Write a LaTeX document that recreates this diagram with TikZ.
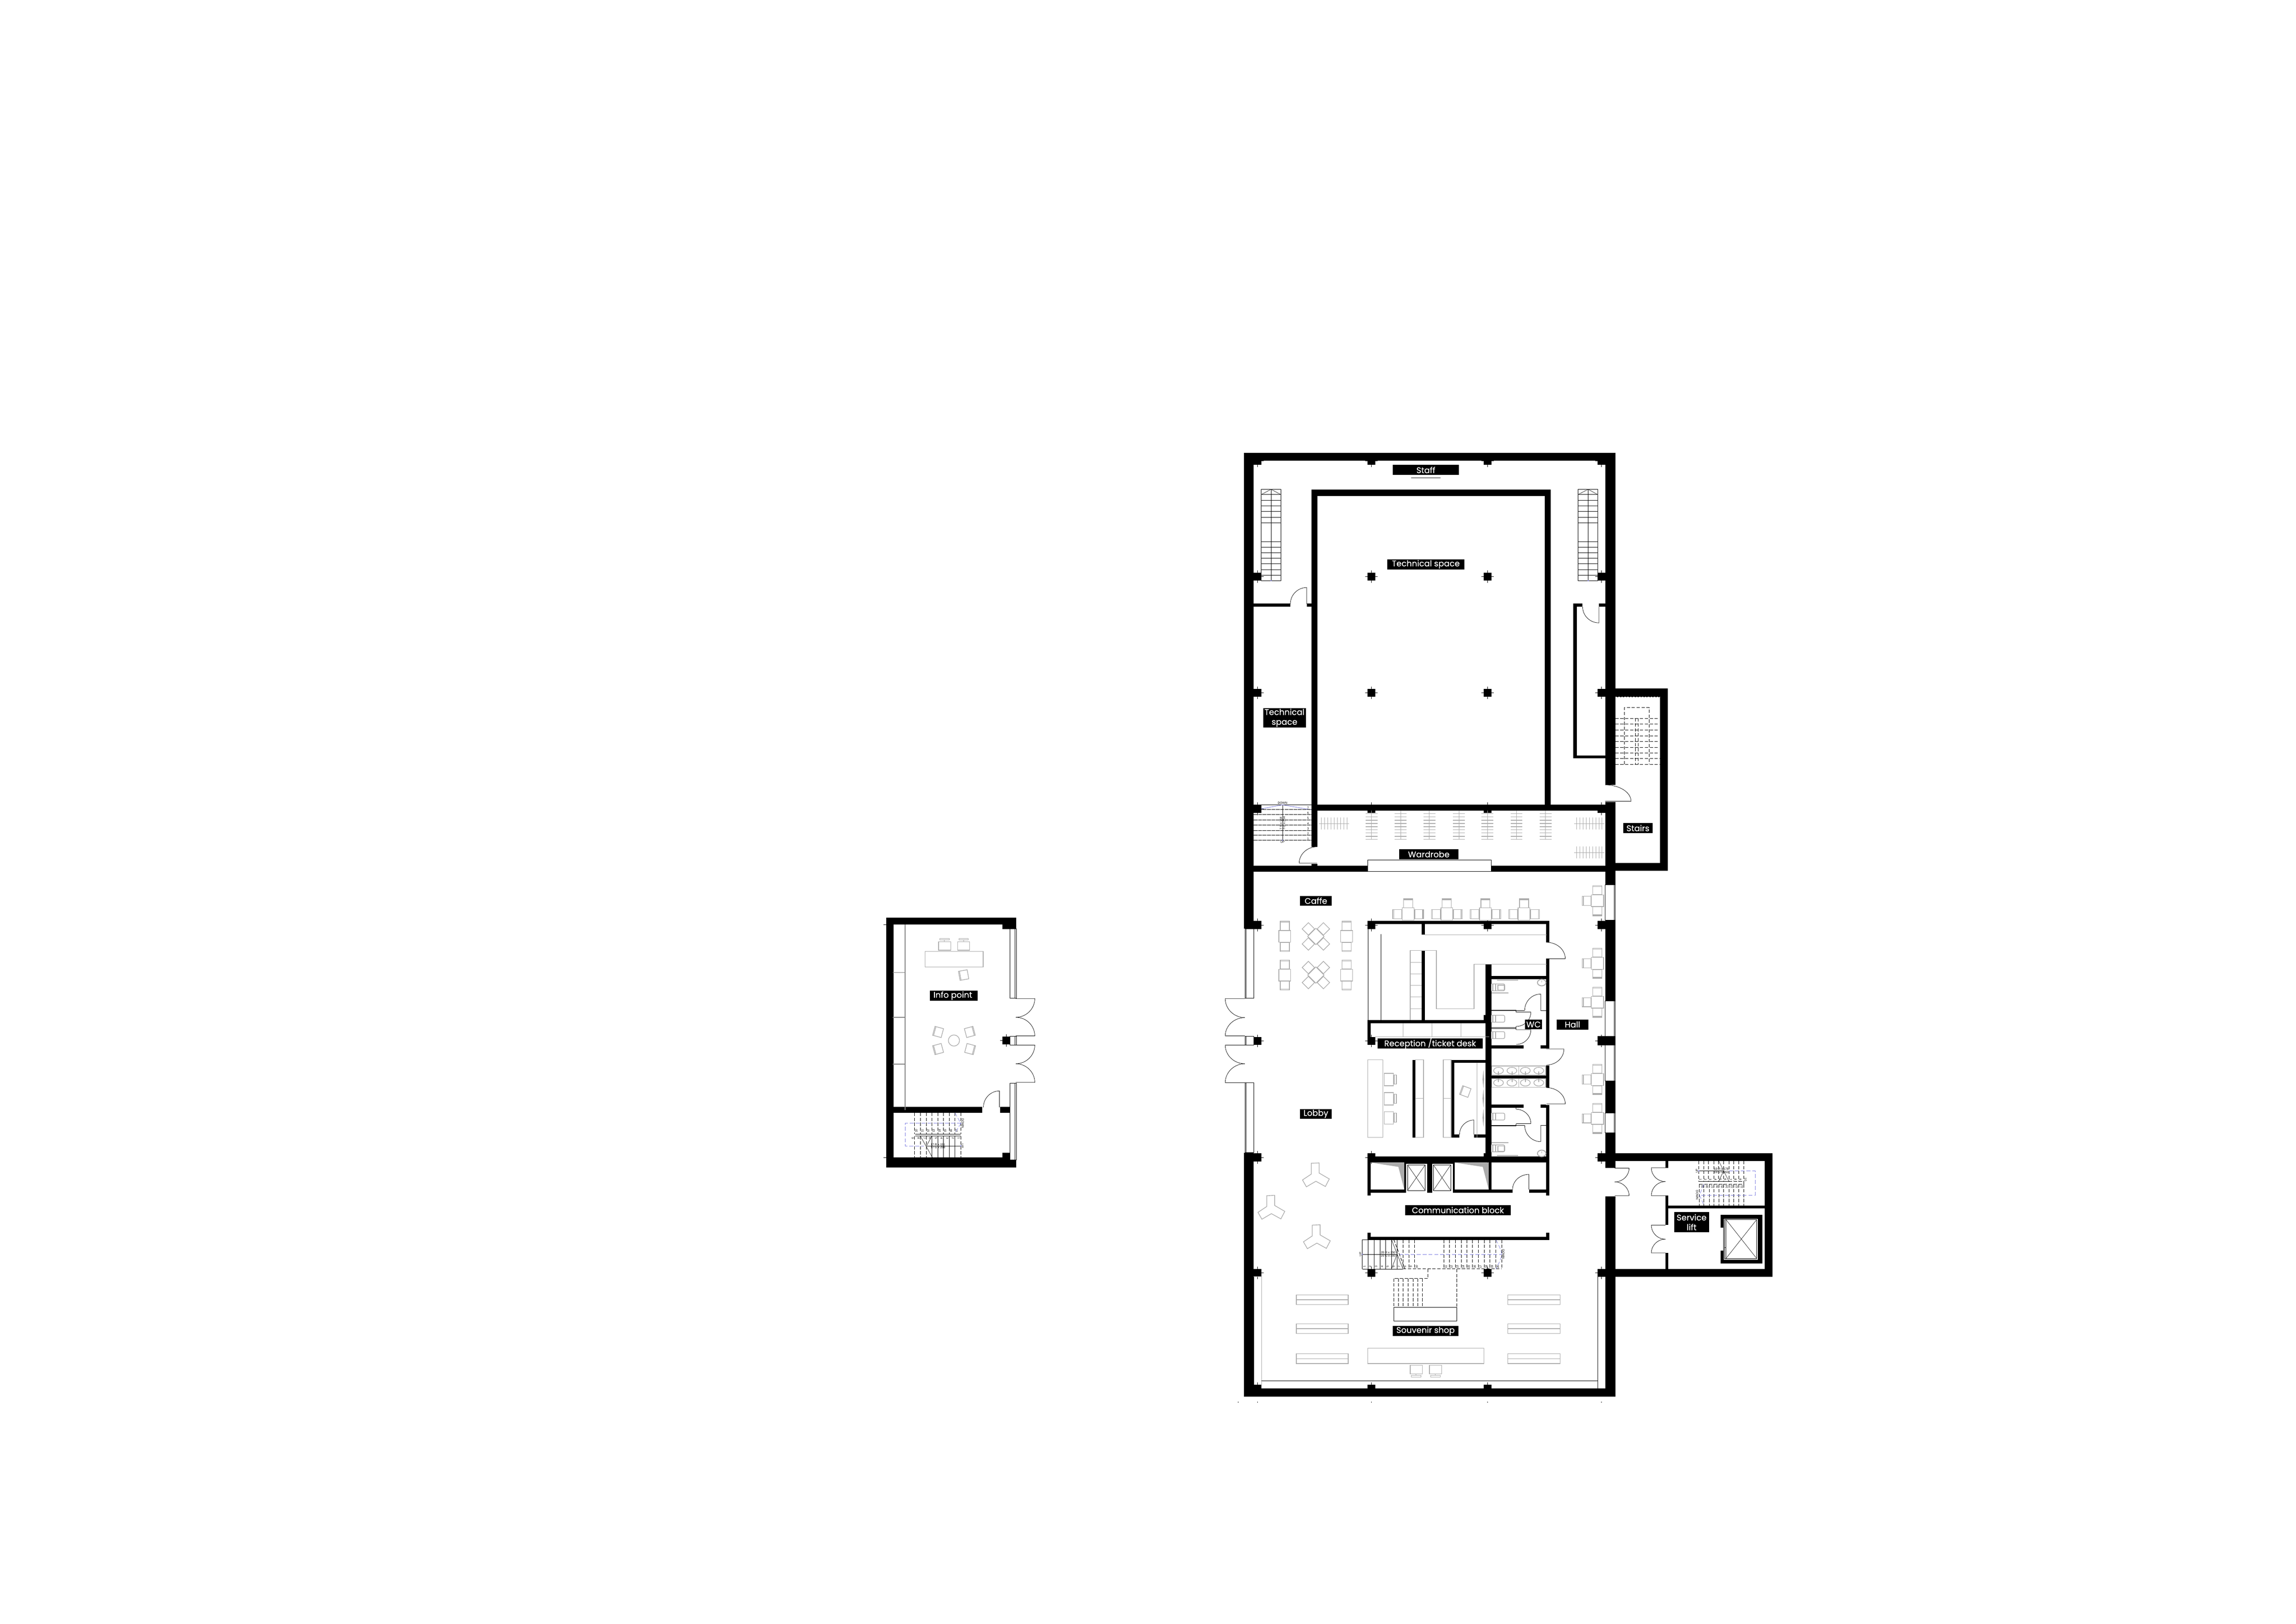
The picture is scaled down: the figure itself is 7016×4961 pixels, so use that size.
\documentclass[tikz,border=0pt]{standalone}
\usepackage{fontspec}
\setmainfont{Poppins}[FakeBold=0.25]
\newfontfamily\smallfont{Liberation Sans}
\usetikzlibrary{calc}

\definecolor{furngray}{HTML}{ABABAB}
\definecolor{stairblue}{HTML}{7B7BE0}

\newcommand{\swingh}[4]{\draw[doorline] (#1,#2) -- ++(#3,0) .. controls ($(#1,#2)+(#3,.55*#4)$) and ($(#1,#2)+(.55*#3,#4)$) .. ($(#1,#2)+(0,#4)$);}
\newcommand{\swingv}[4]{\draw[doorline] (#1,#2) -- ++(0,#4) .. controls ($(#1,#2)+(.55*#3,#4)$) and ($(#1,#2)+(#3,.55*#4)$) .. ($(#1,#2)+(#3,0)$);}
\newcommand{\pier}[2]{
	\fill[black] (#1-12,#2-12) rectangle (#1+12,#2+12);
	\draw[hair] (#1-19,#2) -- (#1+19,#2);
	\draw[hair] (#1,#2-19) -- (#1,#2+19);
}
\newcommand{\seat}[3]{
	\draw[furn,fill=white,shift={(#1,#2)},rotate=#3] (-14,-14) rectangle (14,13);
	\draw[furn,shift={(#1,#2)},rotate=#3] (-14,-11) -- (14,-11);
}
\newcommand{\toilet}[2]{
	\draw[furn,rounded corners=0.4mm] (#1,#2) -- (#1+41,#2) -- (#1+41,#2+21) -- (#1,#2+21);
	\draw[furn] (#1,#2-1) -- (#1,#2+22);
	\draw[furn] (#1+5,#2) -- (#1+5,#2+21);
	\draw[furn] (#1+13,#2) -- (#1+13,#2+21);
}
\newcommand{\glass}[4]{
	\draw[hair,fill=white] (#1,#2) rectangle (#3,#4);
	\draw[hair] (#3-3,#2) -- (#3-3,#4);
}

\begin{document}
\begin{tikzpicture}[x=0.1mm,y=-0.1mm]

	\tikzset{
		hair/.style={line width=0.25pt,black},
		doorline/.style={line width=0.3pt,black},
		furn/.style={line width=0.55pt,furngray},
		furnthin/.style={line width=0.4pt,furngray},
		tread/.style={line width=0.4pt,black,dash pattern=on 1mm off 0.5mm},
		bluedash/.style={line width=0.3pt,stairblue,dash pattern=on 1.2mm off 0.6mm},
		lab/.style 2 args={fill=black,text=white,inner sep=0pt,align=center,minimum width=#1*0.1mm,minimum height=#2*0.1mm,font=\fontsize{7.2}{8.5}\selectfont},
		smalltext/.style={inner sep=0pt,text=black,font=\smallfont\fontsize{2.6}{3}\selectfont},
	}

	\useasboundingbox (0,0) rectangle (7016,4961);
	\fill[white] (0,0) rectangle (7016,4961);

	% walls
	\foreach \xa/\ya/\xb/\yb in {
			3801/1384/4936/1408, 3801/1384/3831/2837, 3801/3522/3831/4267, 3801/4242/4936/4267,
			4905/1408/4936/2398, 4905/2450/4936/2703, 4905/2811/4936/3058, 4881/3166/4936/3193,
			4905/3302/4936/3401, 4905/3460/4936/3568, 4905/3656/4936/4267,
			3831/2645/4905/2663,
			4936/2104/5096/2130, 5072/2104/5096/2661, 4936/2637/5096/2661,
			4007/1496/4738/1515, 4007/1515/4026/2588, 4720/1515/4738/2459, 4007/2459/4905/2477,
			4007/2639/4026/2645,
			3831/1844/3943/1854, 3994/1844/4007/1854,
			4808/1844/4836/1854, 4886/1844/4905/1854, 4808/1844/4819/2317, 4808/2308/4905/2317,
			4179/2813/4734/2823, 4344/2823/4354/2856, 4724/2813/4734/2879, 4724/2929/4734/3204,
			4344/2904/4354/3117, 4179/3117/4539/3127, 4179/3117/4189/3168, 4539/2947/4558/3552,
			4533/3101/4539/3117, 4558/2982/4724/2991, 4558/3193/4656/3203, 4708/3193/4724/3203,
			4724/3255/4734/3323, 4558/3285/4724/3295, 4558/3375/4656/3385, 4708/3375/4724/3385,
			4724/3376/4734/3653,
			4434/3238/4539/3247, 4434/3238/4444/3475, 4434/3466/4459/3475, 4504/3466/4539/3475,
			4316/3238/4325/3475,
			4179/3533/4724/3552, 4179/3552/4189/3653, 4189/3634/4291/3644, 4291/3552/4445/3644,
			4445/3634/4622/3644, 4672/3634/4724/3644, 4549/3552/4558/3644,
			4179/3779/4734/3788, 4179/3766/4189/3779, 4724/3766/4734/3779,
			4936/3523/5416/3547, 5393/3547/5416/3877, 4881/3877/5416/3901,
			5089/3547/5098/3568, 5089/3653/5098/3743, 5089/3828/5098/3877, 5098/3683/5393/3692,
			5258/3712/5385/3723, 5258/3849/5385/3860, 5372/3712/5385/3860,
			5258/3712/5267/3751, 5258/3821/5267/3860,
			2708/2803/3105/2825, 2708/2825/2730/3567, 2708/3536/3105/3567, 3063/2825/3105/2838,
			3063/3522/3086/3536, 2730/3382/3002/3400, 3056/3382/3086/3400
		} {
			\fill[black] (\xa,\ya) rectangle (\xb,\yb);
		}

	% piers on the grid
	\foreach \x/\y in {
			3843/1408, 4191/1408, 4546/1408, 4893/1408,
			3843/1762, 4191/1762, 4546/1762, 4893/1762,
			3843/2117, 4191/2117, 4546/2117, 4893/2117,
			3843/2471, 4191/2471, 4546/2471, 4893/2471,
			3843/2826, 4191/2826, 4546/2826, 4893/2826,
			3843/3180, 4191/3180, 4893/3180,
			3843/3536, 4191/3536, 4546/3536, 4893/3536,
			3843/3889, 4191/3889, 4546/3889, 4893/3889,
			3843/4242, 4191/4242, 4546/4242,
			3075/3179
		} {
			\pier{\x}{\y}
		}
	\foreach \x in {3783,3842,4191,4545,4893} {
			\draw[hair] (\x,4283) -- (\x,4285);
		}
	\draw[hair] (2700,2825) -- (2708,2825);
	\draw[hair] (2700,3536) -- (2708,3536);

	% windows
	\foreach \ya/\yb in {2703/2811,3058/3166,3193/3302,3401/3460} {
			\glass{4905}{\ya}{4936}{\yb}
		}
	\foreach \ya/\yb in {2837/3050,3166/3192,3308/3521} {
			\draw[hair,fill=white] (3804,\ya) rectangle (3831,\yb);
			\draw[hair] (3807,\ya) -- (3807,\yb);
		}
	\foreach \ya/\yb in {2838/3050,3166/3192,3309/3544} {
			\glass{3086}{\ya}{3105}{\yb}
		}
	\draw[hair] (3831,3900) -- (3831,4231);
	\draw[furn] (3855,3900) -- (3855,4231);
	\draw[furnthin] (3831,3900) -- (3855,3900);
	\draw[hair] (3855,4219) -- (4882,4219);
	\draw[hair] (4882,3900) -- (4882,4242);
	\draw[hair,fill=white] (4179,2627) rectangle (4557,2662);

	% doors
	\swingv{3993}{1845}{-50}{-50}
	\swingv{4886}{1854}{-50}{49}
	\swingh{4905}{2448}{79}{-50}
	\swingh{4025}{2637}{-55}{-50}
	\swingh{3804}{3051}{-60}{58}
	\swingh{3804}{3165}{-60}{-56}
	\swingh{3804}{3193}{-60}{57}
	\swingh{3804}{3308}{-60}{-58}
	\swingh{4726}{2929}{57}{-50}
	\swingh{4725}{3205}{54}{49}
	\swingh{4726}{3373}{57}{-50}
	\swingv{4708}{3087}{-49}{-50}
	\swingh{4633}{3092}{45}{44}
	\swingh{4633}{3146}{45}{45}
	\swingh{4633}{3433}{45}{-44}
	\swingv{4708}{3438}{-49}{50}
	\swingv{4504}{3466}{-44}{-44}
	\swingv{4672}{3634}{-50}{-46}
	\swingh{4934}{3569}{44}{42}
	\swingh{4934}{3653}{44}{-42}
	\swingh{5089}{3568}{-43}{42}
	\swingh{5089}{3653}{-43}{-43}
	\swingh{5089}{3743}{-43}{43}
	\swingh{5089}{3828}{-43}{-42}
	\swingh{3104}{3051}{58}{57}
	\swingh{3104}{3165}{58}{-57}
	\swingh{3104}{3193}{58}{57}
	\swingh{3104}{3307}{58}{-57}
	\swingv{3054}{3383}{-49}{-50}

	% thin partitions at the wc
	\foreach \y in {3086,3140,3438} {
			\draw[hair] (4558,\y) -- (4633,\y);
			\draw[hair] (4558,\y+2) -- (4633,\y+2);
		}
	\draw[hair] (4633,3086) -- (4633,3092);
	\draw[hair] (4633,3088) -- (4659,3088);
	\draw[hair] (4708,3087) -- (4724,3087);
	\draw[hair] (4633,3136) -- (4633,3146);
	\draw[hair] (4633,3433) -- (4633,3440);
	\draw[hair] (4633,3438) -- (4659,3438);
	\draw[hair] (4708,3438) -- (4724,3438);
	\draw[hair] (4633,3385) -- (4633,3389);
	\draw[hair] (4312,1460) -- (4402,1460);

	% stairs in the north rooms
	\foreach \xa/\xm/\xb in {3854/3884/3914, 4822/4853/4882} {
			\draw[hair] (\xa,1495) rectangle (\xb,1774);
			\draw[hair] (\xm,1495) -- (\xm,1774);
			\draw[hair] (\xa,1511) -- (\xm,1495) -- (\xb,1511);
			\foreach \y in {1511,1528,1546,1563,1580,1597,1655,1672,1689,1706,1723,1740,1757} {
					\draw[line width=0.35pt,black] (\xa,\y) -- (\xb,\y);
				}
			\fill[stairblue] (\xm,1774) circle (0.2mm);
		}

	% stairs behind the wardrobe
	\draw[hair] (3855,2459) -- (4007,2459);
	\draw[hair] (3919,2459) -- (3919,2567);
	\draw[line width=0.35pt,stairblue] (3855,2471) -- (3919,2459) -- (4007,2474);
	\foreach \y [count=\n] in {2567,2552,2537,2521,2505,2489,2473} {
			\draw[tread,dash pattern=on 1.2mm off 0.15mm] (3831,\y) -- (4007,\y);
			\node[smalltext] (ws\n) at (3997,\y-5) {\n};
		}
	\fill[stairblue] (3919,2567) circle (0.2mm);
	\node[smalltext] (ws_down) at (3919,2453) {DOWN};
	\node[smalltext] (ws_up) at (3919,2573) {UP};
	\node[smalltext,rotate=90] (ws_r) at (3914,2515) {7 R x 154};
	\node[smalltext,rotate=90] (ws_g) at (3924,2515) {7 G x 254};

	% wardrobe racks
	\foreach \x in {4191,4280,4368,4458,4545,4634,4723} {
			\draw[furnthin] (\x,2476) -- (\x,2564);
			\foreach \y in {2486,2496,2506,2516,2526,2535,2545,2555,2564} {
					\draw[furn] (\x-18,\y) -- (\x+18,\y);
				}
		}
	\foreach \xa/\ya in {4038/2516,4818/2516,4818/2605} {
			\draw[furnthin] (\xa-8,\ya) -- (\xa+85,\ya);
			\foreach \n in {0,...,8} {
					\draw[furnthin] (\xa+\n*9.7,\ya-19) -- (\xa+\n*9.7,\ya+18);
				}
		}

	% dashed stairs in the stair room
	\foreach \y in {2195,2212,2230,2248,2265,2283,2300,2318,2335} {
			\draw[tread] (4936,\y) -- (5072,\y);
		}
	\draw[tread] (4964,2335) -- (4964,2162) -- (5040,2162) -- (5040,2335);
	\draw[tread] (4998,2195) -- (4998,2335);
	\draw[tread] (5006,2195) -- (5006,2335);
	\draw[white,line width=0.4pt,dash pattern=on 0.5mm off 0.4mm] (4936,2130) -- (5072,2130) -- (5072,2335);

	% cafe tables
	\foreach \cx in {4303,4421,4539,4657} {
			\seat{\cx}{2760}{0}
			\seat{\cx-33}{2793}{90}
			\seat{\cx+33}{2793}{-90}
			\draw[furn,fill=white] (\cx-18,2773) rectangle (\cx+18,2811);
		}
	\foreach \cy in {2752,2943,3062,3298,3417} {
			\seat{4881}{\cy-32}{0}
			\seat{4881}{\cy+32}{180}
			\seat{4849}{\cy}{90}
			\draw[furn,fill=white] (4863,\cy-18) rectangle (4900,\cy+18);
		}
	\foreach \cx in {3926,4115} {
			\foreach \cy in {2861,2979} {
					\seat{\cx}{\cy-32}{0}
					\seat{\cx}{\cy+32}{180}
					\draw[furn,fill=white] (\cx-18,\cy-18) rectangle (\cx+18,\cy+18);
				}
		}
	\foreach \cy in {2861,2979} {
			\foreach \sx/\sy in {-23/-23,23/-23,-23/23,23/23} {
					\draw[furn,shift={(4021+\sx,\cy+\sy)}] (-19,0) -- (0,-19) -- (19,0) -- (0,19) -- cycle;
				}
			\draw[furn,fill=white,shift={(4021,\cy)}] (-25,0) -- (0,-25) -- (25,0) -- (0,25) -- cycle;
		}

	% service counter
	\draw[hair] (4180,2838) -- (4180,3117);
	\draw[hair] (4220,2854) -- (4220,3117);
	\draw[furn] (4354,2856) -- (4726,2856);
	\draw[furn] (4726,2946) -- (4504,2946) -- (4504,3082) -- (4389,3082) -- (4389,2904) -- (4354,2904);
	\draw[furn] (4309,3117) -- (4309,2904) -- (4344,2904);
	\foreach \y in {2940,2975,3011,3046,3082} {
			\draw[furnthin] (4309,\y) -- (4344,\y);
		}
	\draw[furnthin] (4203,3168) -- (4550,3168);
	\foreach \x in {4287,4376,4464} {
			\draw[furn] (\x,3127) -- (\x,3168);
		}

	% ticket desk
	\draw[furn] (4179,3238) rectangle (4226,3475);
	\foreach \y in {3279,3338,3396} {
			\draw[furn] (4230,\y) rectangle (4258,\y+38);
			\draw[furn] (4260,\y+5) rectangle (4267,\y+33);
		}
	\foreach \xa/\xb in {4325/4350,4410/4434} {
			\draw[furn] (\xa,3238) rectangle (\xb,3475);
			\draw[furnthin] (\xa,3356) -- (\xb,3356);
		}
	\draw[furnthin] (4513,3247) -- (4513,3475);
	\foreach \ya/\yb in {3269/3326,3327/3385,3387/3443} {
			\fill[furngray] (4533,\ya) -- (4535,{(\ya+\yb)/2}) -- (4533,\yb) -- (4530,{(\ya+\yb)/2}) -- cycle;
		}
	\seat{4478}{3335}{70}

	% wc furniture
	\toilet{4557}{3006}
	\draw[furn] (4577,3010) rectangle (4597,3025);
	\toilet{4557}{3102}
	\toilet{4557}{3152}
	\toilet{4557}{3401}
	\toilet{4557}{3498}
	\draw[furn] (4577,3502) rectangle (4597,3517);
	\foreach \y in {3034,3491} {
			\draw[furn,line width=0.8pt] (4557,\y) -- (4610,\y);
		}
	\foreach \y in {2994,3531} {
			\draw[furn,line width=0.8pt] (4574,\y) -- (4639,\y);
		}
	\foreach \y in {3002,3524} {
			\draw[furn,line width=0.8pt] (4711,\y) circle[x radius=1.3mm,y radius=1mm];
			\draw[furn] (4711,\y-6) -- (4711,\y);
		}
	\foreach \ya/\yb in {3257/3285,3295/3322} {
			\draw[furn] (4558,\ya) rectangle (4723,\yb);
			\draw[furnthin] (4641,\ya) -- (4641,\yb);
		}
	\foreach \x in {4579,4620,4661,4702} {
			\draw[furn] (\x,3271) circle[x radius=1.5mm,y radius=1mm];
			\draw[furn] (\x,3308) circle[x radius=1.5mm,y radius=1mm];
			\draw[furn,line width=0.8pt] (\x,3273) -- (\x,3285);
			\draw[furn,line width=0.8pt] (\x,3295) -- (\x,3306);
		}

	% communication block
	\foreach \xa/\xb in {4297/4361,4376/4439} {
			\fill[white] (\xa,3555) rectangle (\xb,3644);
			\draw[hair] (\xa+4,3559) rectangle (\xb-6,3637);
			\draw[hair] (\xa+4,3559) -- (\xb-6,3637);
			\draw[hair] (\xb-6,3559) -- (\xa+4,3637);
		}
	\fill[furngray] (4189,3552) -- (4291,3552) -- (4291,3634) -- (4273,3565) -- cycle;
	\fill[furngray] (4445,3552) -- (4549,3552) -- (4549,3634) -- (4531,3565) -- cycle;

	% main stairs
	\foreach \x in {4163,4181,4199,4217,4234,4252,4269} {
			\draw[line width=0.4pt,black] (\x,3787) -- (\x,3877);
		}
	\foreach \x in {4287,4305,4323,4412,4429,4447,4465,4482,4500,4518,4536,4553,4571,4589} {
			\draw[tread] (\x,3788) -- (\x,3877);
		}
	\foreach \x [count=\n] in {4163,4181,4199,4217,4234,4252,4269,4287,4305,4323,4412,4429,4447,4465,4482,4500,4518,4536,4553,4571} {
			\node[smalltext,rotate=90] (ms\n) at (\x+6,3870) {\n};
		}
	\draw[hair] (4163,3787) -- (4252,3787);
	\draw[hair] (4163,3877) -- (4287,3877);
	\draw[tread] (4287,3877) -- (4589,3877);
	\draw[hair] (4163,3832) -- (4269,3832);
	\draw[bluedash] (4275,3832) -- (4589,3832);
	\draw[hair] (4252,3787) -- (4287,3877);
	\draw[hair] (4269,3832) -- (4252,3877);
	\draw[tread] (4259,3787) -- (4293,3877);
	\draw[bluedash] (4571,3788) .. controls (4585,3815) .. (4589,3832) .. controls (4585,3850) .. (4571,3877);
	\fill[stairblue] (4163,3832) circle (0.2mm);
	\node[smalltext,rotate=90] (ms_up) at (4157,3832) {UP};
	\node[smalltext,rotate=-90] (ms_down) at (4594,3832) {DOWN};
	\node[smalltext] (ms_r) at (4242,3827) {20 R x 150};
	\node[smalltext] (ms_g) at (4242,3837) {20 G x 300};
	\draw[tread] (4363,3877) -- (4363,3906) -- (4259,3906);
	\draw[tread] (4451,3877) -- (4451,3994);
	\foreach \x in {4259,4274,4288,4303,4318,4332,4347} {
			\draw[tread] (\x,3906) -- (\x,3994);
		}
	\draw[line width=0.35pt,black] (4259,3994) rectangle (4451,4036);

	% service stairs
	\foreach \x [count=\n] in {5191,5206,5221,5237,5252,5267,5283,5298,5313,5329} {
			\draw[tread] (\x,3547) -- (\x,3609);
			\node[smalltext,rotate=-90] (ss\n) at (\x+5,3604) {\n};
		}
	\foreach \x [count=\c, evaluate=\c as \n using int(20-\c)] in {5193,5207,5223,5238,5253,5267,5283,5298,5313} {
			\draw[tread] (\x,3618) -- (\x,3683);
			\node[smalltext,rotate=90] (st\n) at (\x+9,3626) {\n};
		}
	\draw[tread] (5329,3618) -- (5329,3683);
	\draw[hair] (5191,3609) -- (5283,3609);
	\draw[tread] (5283,3609) -- (5329,3609) -- (5329,3623);
	\draw[tread] (5193,3618) -- (5329,3618);
	\draw[hair] (5191,3577) -- (5267,3577);
	\draw[bluedash] (5283,3577) -- (5363,3577) -- (5363,3651) -- (5193,3651);
	\draw[hair] (5252,3547) -- (5283,3609);
	\draw[hair] (5267,3577) -- (5252,3609);
	\draw[bluedash] (5207,3618) -- (5193,3651) -- (5207,3683);
	\fill[stairblue] (5191,3577) circle (0.2mm);
	\node[smalltext,rotate=90] (ss_up) at (5185,3577) {UP};
	\node[smalltext,rotate=-90] (ss_down) at (5186,3651) {DOWN};
	\node[smalltext] (ss_r) at (5260,3572) {19 R x 178};
	\node[smalltext] (ss_g) at (5260,3581) {19 G x 263};

	% service lift
	\draw[hair] (5270,3726) rectangle (5368,3845);
	\draw[hair] (5274,3726) -- (5274,3845);
	\draw[hair] (5274,3726) -- (5368,3845);
	\draw[hair] (5368,3726) -- (5274,3845);
	\draw[hair] (5270,3811) rectangle (5274,3845);
	\draw[hair] (5267,3723) rectangle (5372,3849);

	% lobby seats
	\foreach \cx/\cy in {4021/3592,3885/3691,4024/3781} {
			\draw[furn,shift={(\cx,\cy)}] (-14,-38) -- (10,-39) -- (10,-8) -- (41,10) -- (29,33) -- (0,17) -- (-29,34) -- (-41,13) -- (-14,-5) -- cycle;
		}

	% souvenir shop
	\foreach \xa/\xb in {3961/4120,4607/4767} {
			\foreach \ya/\yb in {3956/3986,4045/4074,4136/4166} {
					\draw[furn] (\xa,\ya) rectangle (\xb,\yb);
					\draw[furn] (\xa,{(\ya+\yb)/2}) -- (\xb,{(\ya+\yb)/2});
				}
		}
	\draw[furn] (4179,4119) rectangle (4534,4166);
	\foreach \x in {4309,4368} {
			\draw[furn] (\x,4171) rectangle (\x+37,4198);
			\draw[furnthin] (\x+18,4198) -- (\x+18,4202);
			\draw[furnthin] (\x+3,4202) rectangle (\x+33,4207);
		}

	% info point
	\draw[line width=0.9pt,gray] (2766,2825) -- (2766,3392);
	\foreach \y in {2971,3108,3251} {
			\draw[line width=0.6pt,gray] (2728,\y) -- (2766,\y);
		}
	\draw[furn] (2827,2907) rectangle (3004,2954);
	\foreach \x in {2868,2926} {
			\draw[furn] (\x,2877) rectangle (\x+37,2903);
			\draw[furnthin] (\x+18,2872) -- (\x+18,2877);
			\draw[furnthin] (\x+4,2867) rectangle (\x+33,2872);
		}
	\seat{2945}{2979}{100}
	\draw[furn] (2915,3179) circle (1.7mm);
	\seat{2867}{3153}{75}
	\seat{2963}{3153}{-75}
	\seat{2867}{3205}{105}
	\seat{2964}{3205}{-105}
	\foreach \x in {2795,2813,2831,2848,2866,2883,2901,2918,2936} {
			\draw[tread] (\x,3400) -- (\x,3465);
			\draw[tread] (\x,3472) -- (\x,3536);
		}
	\foreach \x [count=\n] in {2936,2918,2901,2883,2866,2848,2831,2813,2795} {
			\node[smalltext,rotate=-90] (ip\n) at (\x-6,3477) {\n};
		}
	\foreach \x [count=\c, evaluate=\c as \n using int(9+\c)] in {2795,2813,2831,2848,2866,2883,2901,2918} {
			\node[smalltext,rotate=90] (iq\n) at (\x+5,3455) {\n};
		}
	\draw[hair] (2796,3465) -- (2936,3465);
	\draw[hair] (2796,3471) -- (2936,3471);
	\draw[bluedash] (2936,3432) -- (2766,3432) -- (2766,3501) -- (2823,3501);
	\draw[bluedash] (2918,3400) -- (2936,3432) -- (2918,3462);
	\draw[hair] (2831,3501) -- (2936,3501);
	\foreach \x in {2848,2866,2883,2901,2918} {
			\draw[hair] (\x,3472) -- (\x,3536);
		}
	\draw[hair] (2813,3472) -- (2849,3536);
	\draw[hair] (2831,3501) -- (2847,3472);
	\fill[stairblue] (2936,3501) circle (0.2mm);
	\fill[stairblue] (2936,3432) circle (0.15mm);
	\node[smalltext,rotate=-90] (ip_up) at (2941,3501) {UP};
	\node[smalltext,rotate=-90] (ip_down) at (2942,3432) {DOWN};
	\node[smalltext] (ip_r) at (2866,3497) {17 R x 151};
	\node[smalltext] (ip_g) at (2866,3505) {17 G x 298};

	% room labels
	\foreach \name/\cx/\cy/\w/\h/\txt in {
			staff/4357/1436/203/31/{Staff},
			tech/4357/1724/236/31/{Technical space},
			techb/3925/2193/131/58/{Technical\\space},
			stairs/5005/2530/90/31/{Stairs},
			wardrobe/4366/2610/181/31/{Wardrobe},
			caffe/4021/2752/97/30/{Caffe},
			lobby/4021/3403/97/30/{Lobby},
			desk/4370/3188/321/30/{Reception /ticket desk},
			wc/4686/3130/53/30/{WC},
			hall/4805/3130/96/31/{Hall},
			block/4455/3697/323/31/{Communication block},
			shop/4356/4066/201/31/{Souvenir shop},
			lift/5169/3734/106/61/{Service\\lift},
			info/2915/3042/146/31/{Info point}
		} {
			\node[lab={\w}{\h}] (l_\name) at (\cx,\cy) {\txt};
		}
\end{tikzpicture}
\end{document}
